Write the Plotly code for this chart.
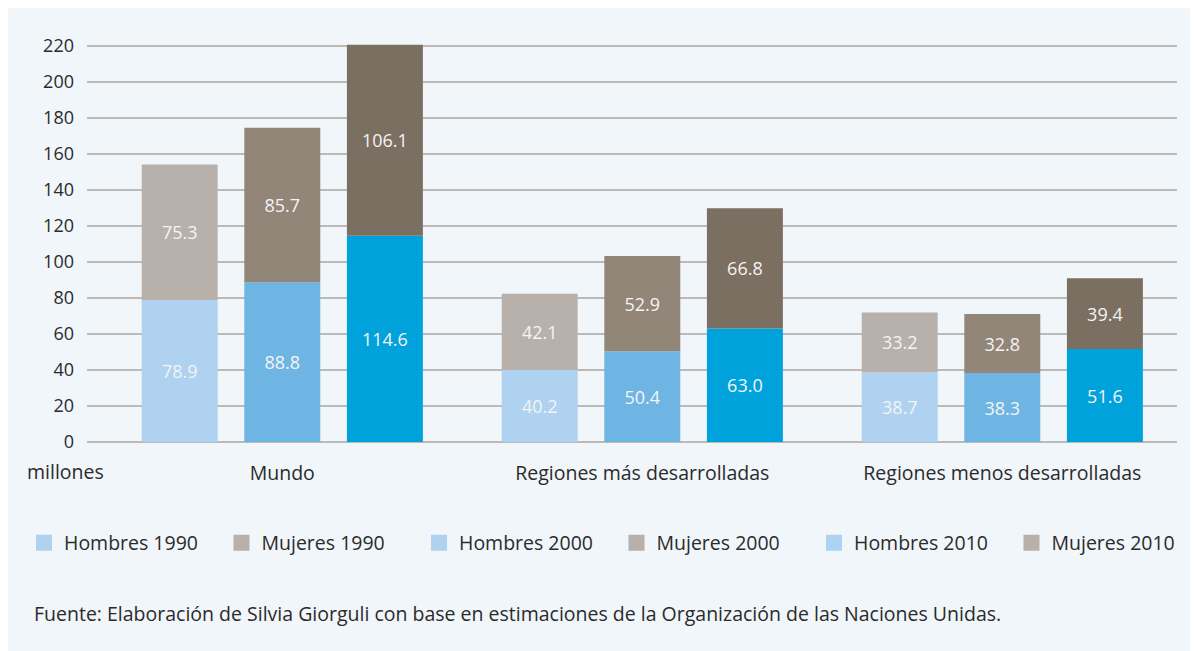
import plotly.graph_objects as go

# ---- data ----
categories = ["Mundo", "Regiones más desarrolladas", "Regiones menos desarrolladas"]
years = ["1990", "2000", "2010"]
hombres_1990 = [78.9, 40.2, 38.7]
mujeres_1990 = [75.3, 42.1, 33.2]
hombres_2000 = [88.8, 50.4, 38.3]
mujeres_2000 = [85.7, 52.9, 32.8]
hombres_2010 = [114.6, 63.0, 51.6]
mujeres_2010 = [106.1, 66.8, 39.4]
y_ticks = [0, 20, 40, 60, 80, 100, 120, 140, 160, 180, 200, 220]
source = "Fuente: Elaboración de Silvia Giorguli con base en estimaciones de la Organización de las Naciones Unidas."
unit_label = "millones"

# ---- styles ----
hombres_colors = ["#AED2EF", "#6FB5E4", "#00A2DC"]
mujeres_colors = ["#B8B0AA", "#928679", "#7A6F61"]
legend_h_color = "#AED2EF"
legend_m_color = "#B8B0AA"
FONT = "Open Sans"
TXT = "#2b2b2b"
GRID = "#BDB9B6"
PANEL = "#F1F6FA"

W, H = 1198, 651
L, R, T, B = 79, 29, 34, 217
bar_width = 0.211
bar_step = 0.285
legend_step = 197.5
legend_x0 = 16

hombres = [hombres_1990, hombres_2000, hombres_2010]
mujeres = [mujeres_1990, mujeres_2000, mujeres_2010]

fig = go.Figure()
group_idx = list(range(len(categories)))
for k in range(len(years)):
    xs = [g + (k - 1) * bar_step for g in group_idx]
    fig.add_trace(go.Bar(
        x=xs, y=hombres[k], width=bar_width, marker=dict(color=hombres_colors[k], line=dict(width=0)),
        texttemplate="%{y:.1f}", textposition="inside", insidetextanchor="middle",
        textfont=dict(family=FONT, size=18, color="#F4F4F4"), showlegend=False,
        hoverinfo="skip"))
    fig.add_trace(go.Bar(
        x=xs, y=mujeres[k], base=hombres[k], width=bar_width,
        marker=dict(color=mujeres_colors[k], line=dict(width=0)),
        texttemplate="%{y:.1f}", textposition="inside", insidetextanchor="middle",
        textfont=dict(family=FONT, size=18, color="#F4F4F4"), showlegend=False,
        hoverinfo="skip"))

# legend entries (as in the reference, uniform light colours), split over three legends
legend_ids = ["legend", "legend2", "legend3"]
for k, yr in enumerate(years):
    lg = legend_ids[k]
    fig.add_trace(go.Scatter(x=[None], y=[None], mode="markers", name="Hombres " + yr, legend=lg,
                             marker=dict(symbol="square", size=16, color=legend_h_color)))
    fig.add_trace(go.Scatter(x=[None], y=[None], mode="markers", name="Mujeres " + yr, legend=lg,
                             marker=dict(symbol="square", size=16, color=legend_m_color)))

pw = W - L - R
ph = H - T - B
x0 = -(274.3 - L) / 360.0
x1 = x0 + pw / 360.0

fig.add_annotation(text=unit_label, xref="paper", yref="paper",
                   x=(17 - L) / pw, y=-(463 - (H - B)) / ph, xanchor="left", yanchor="middle",
                   showarrow=False, font=dict(family=FONT, size=19.5, color=TXT))
fig.add_annotation(text=source, xref="paper", yref="paper",
                   x=(24 - L) / pw, y=-(605 - (H - B)) / ph, xanchor="left", yanchor="middle",
                   showarrow=False, font=dict(family=FONT, size=19.5, color=TXT))


def legend_cfg(i):
    return dict(orientation="h", xref="container", yref="container",
                x=(legend_x0 + i * 2 * legend_step) / W, y=1 - 535 / H, xanchor="left", yanchor="middle",
                entrywidth=legend_step - 45, entrywidthmode="pixels", bgcolor="rgba(0,0,0,0)",
                font=dict(family=FONT, size=19.5, color=TXT), itemsizing="trace",
                traceorder="normal")


fig.update_layout(
    width=W, height=H,
    margin=dict(l=L, r=R, t=T, b=B, autoexpand=False),
    paper_bgcolor=PANEL, plot_bgcolor="rgba(0,0,0,0)",
    barmode="overlay",
    font=dict(family=FONT, color=TXT),
    xaxis=dict(range=[x0, x1], tickvals=group_idx, ticktext=categories, showgrid=False,
               zeroline=False, showline=False, ticks="", ticklabelstandoff=17,
               tickfont=dict(family=FONT, size=19.5, color=TXT), fixedrange=True),
    yaxis=dict(range=[0, 222.2], tickvals=y_ticks, showgrid=True, gridcolor=GRID, gridwidth=2,
               zeroline=True, zerolinecolor=GRID, zerolinewidth=2, showline=False, ticks="",
               ticklabelstandoff=12, tickfont=dict(family=FONT, size=18, color=TXT)),
    legend=legend_cfg(0),
    legend2=legend_cfg(1),
    legend3=legend_cfg(2),
    showlegend=True,
)

fig.write_html("out.html")
